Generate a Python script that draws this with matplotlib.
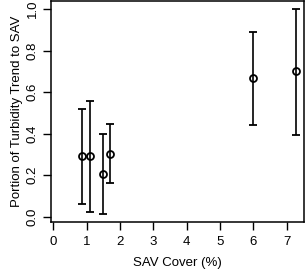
import matplotlib

matplotlib.use("Agg")

import matplotlib.pyplot as plt
import numpy as np

# SAV cover (%) and portion of turbidity trend attributed to SAV
sav_cover = [0.85, 1.10, 1.48, 1.69, 6.00, 7.29]
portion = [0.29, 0.29, 0.207, 0.30, 0.667, 0.70]
lower = [0.06, 0.02, 0.013, 0.16, 0.44, 0.395]
upper = [0.52, 0.555, 0.40, 0.445, 0.888, 1.00]

x_ticks = [0, 1, 2, 3, 4, 5, 6, 7]
y_ticks = [0.0, 0.2, 0.4, 0.6, 0.8, 1.0]

plt.rcParams["font.family"] = ["Liberation Sans", "DejaVu Sans"]

fig = plt.figure(figsize=(3.06, 2.69), dpi=100)
ax = fig.add_axes([0.1667, 0.1747, 0.8268, 0.8233])

portion_arr = np.array(portion)
yerr = np.vstack([portion_arr - np.array(lower), np.array(upper) - portion_arr])

ax.errorbar(
    sav_cover,
    portion,
    yerr=yerr,
    fmt="o",
    markersize=5,
    markerfacecolor="none",
    markeredgecolor="black",
    markeredgewidth=1.3,
    ecolor="black",
    elinewidth=1.2,
    capsize=3,
    capthick=1.2,
)

ax.set_xlim(-0.07, 7.52)
ax.set_ylim(-0.0265, 1.041)
ax.set_xticks(x_ticks)
ax.set_yticks(y_ticks)
ax.set_yticklabels([f"{v:.1f}" for v in y_ticks], rotation=90, va="center")

ax.tick_params(length=5.8, width=1, labelsize=9.5, color="black")
ax.tick_params(axis="x", pad=4.5)
ax.tick_params(axis="y", pad=3)
for spine in ax.spines.values():
    spine.set_linewidth(1.1)

ax.set_xlabel("SAV Cover (%)", fontsize=9.5, labelpad=6.5)
ax.set_ylabel("Portion of Turbidity Trend to SAV", fontsize=9.5, labelpad=3)

fig.savefig("out.png", dpi=100)
